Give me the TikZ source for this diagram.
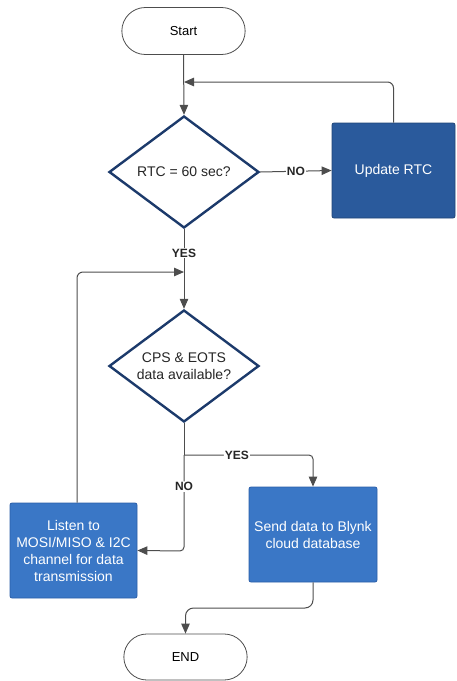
\documentclass[tikz,border=0pt]{standalone}
\usepackage{fontspec}
\setmainfont{Liberation Sans}
\usetikzlibrary{shapes.geometric,shapes.misc,arrows.meta,positioning}
\definecolor{linec}{HTML}{4D4D4D}
\definecolor{navy}{HTML}{1C3A6B}
\definecolor{darkbox}{HTML}{2A5A9C}
\definecolor{darkboxb}{HTML}{1F4577}
\definecolor{lightbox}{HTML}{3A77C6}
\definecolor{lightboxb}{HTML}{2A5EA8}
\tikzset{
  term/.style={rounded rectangle, draw=linec, line width=0.8pt, fill=white,
    minimum width=130pt, minimum height=47pt, font=\fontsize{13}{16}\selectfont},
  dec/.style={diamond, draw=navy, line width=2.4pt, fill=white, aspect=1.333,
    inner sep=0pt, minimum width=150pt, minimum height=112pt,
    align=center, font=\fontsize{14}{17}\selectfont, text=black!85},
  darkproc/.style={rectangle, rounded corners=2pt, draw=darkboxb, line width=0.8pt,
    fill=darkbox, text=white, align=center, font=\fontsize{14}{17}\selectfont},
  lightproc/.style={rectangle, rounded corners=2pt, draw=lightboxb, line width=0.8pt,
    fill=lightbox, text=white, align=center, font=\fontsize{14}{17}\selectfont},
  arr/.style={draw=linec, line width=1pt, -{Triangle[length=10pt,width=8.5pt]}},
  ln/.style={draw=linec, line width=1pt},
  lbl/.style={fill=white, inner sep=1pt, font=\bfseries\fontsize{12}{14}\selectfont, text=black!85}
}
\begin{document}
\begin{tikzpicture}[x=1pt,y=1pt]
\useasboundingbox (0,0) rectangle (456,-681);
\node[term] (start) at (183.5,-31) {Start};
\node[dec] (d1) at (184,-172) {RTC = 60 sec?};
\node[darkproc, minimum width=123pt, minimum height=95pt] (upd) at (393.5,-170.5) {Update RTC};
\node[dec] (d2) at (184,-366) {CPS \& EOTS\\data available?};
\node[lightproc, minimum width=127pt, minimum height=95pt] (listen) at (73.5,-550.5) {Listen to\\MOSI/MISO \& I2C\\channel for data\\transmission};
\node[lightproc, minimum width=128pt, minimum height=95pt] (blynk) at (313,-534.5) {Send data to Blynk\\cloud database};
\node[term, minimum height=46pt] (end) at (185.5,-657) {END};

\coordinate (j1) at (184,-82);
\coordinate (j2) at (184,-272);
\coordinate (br) at (184,-455);
\coordinate (nb) at (184,-551);
\coordinate (eb) at (313,-608);

% main flow
\draw[arr] (start.south) -- (d1.north);
\draw[arr, rounded corners=6pt] (upd.north) |- (j1);
\draw[arr] (d1.east) -- node[lbl, pos=0.5] {NO} (upd.west);
\draw[arr] (d1.south) -- node[lbl, pos=0.3] {YES} (d2.north);
\draw[arr, rounded corners=6pt] (listen.north -| 77,0) |- (j2);
\draw[ln] (d2.south) -- (br);
\draw[arr, rounded corners=4pt] (br) -- node[lbl, pos=0.41] {YES} (br -| blynk.north) -- (blynk.north);
\draw[arr, rounded corners=4pt] (br) -- node[lbl, pos=0.33] {NO} (nb) -- (listen.east);
\draw[arr, rounded corners=8pt] (blynk.south) -- (eb) -| (end.north);
\end{tikzpicture}
\end{document}
